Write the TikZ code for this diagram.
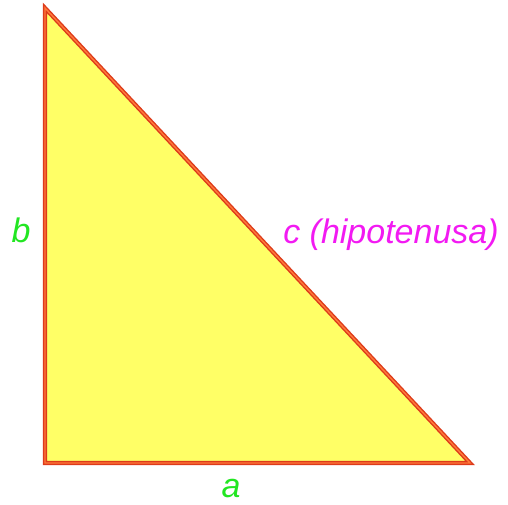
\documentclass[tikz,border=0pt]{standalone}
\usepackage{fontspec}
\setsansfont{Liberation Sans}
\usetikzlibrary{calc}
\definecolor{trfill}{HTML}{FFFF66}
\definecolor{trouter}{HTML}{DD3A1A}
\definecolor{trinner}{HTML}{FF7A3A}
\definecolor{trgreen}{HTML}{22E622}
\definecolor{trpink}{HTML}{F21AF2}

\begin{document}
\begin{tikzpicture}[
      x=1pt, y=1pt,
      lbl/.style={font=\fontsize{34}{38}\selectfont\sffamily\itshape, inner sep=0pt, anchor=base},
      side/.style={lbl, text=trgreen},
      hyp/.style={lbl, text=trpink},
      rim/.style={draw=trouter, line width=4.2pt, line join=miter},
      rimin/.style={draw=trinner, line width=1.4pt, line join=miter}
    ]
    \useasboundingbox (0,0) rectangle (508,504);
    \coordinate (top) at (45,496);
    \coordinate (corner) at (45,41);
    \coordinate (right) at (470,41);
    \fill[trfill] (top) -- (corner) -- (right) -- cycle;
    \draw[rim] (top) -- (corner) -- (right) -- cycle;
    \draw[rimin] (top) -- (corner) -- (right) -- cycle;
    \node[side] (b) at (21,262) {b};
    \node[side] (a) at (231,7) {a};
    \node[hyp] (c) at (391,261) {c (hipotenusa)};
  \end{tikzpicture}
\end{document}
